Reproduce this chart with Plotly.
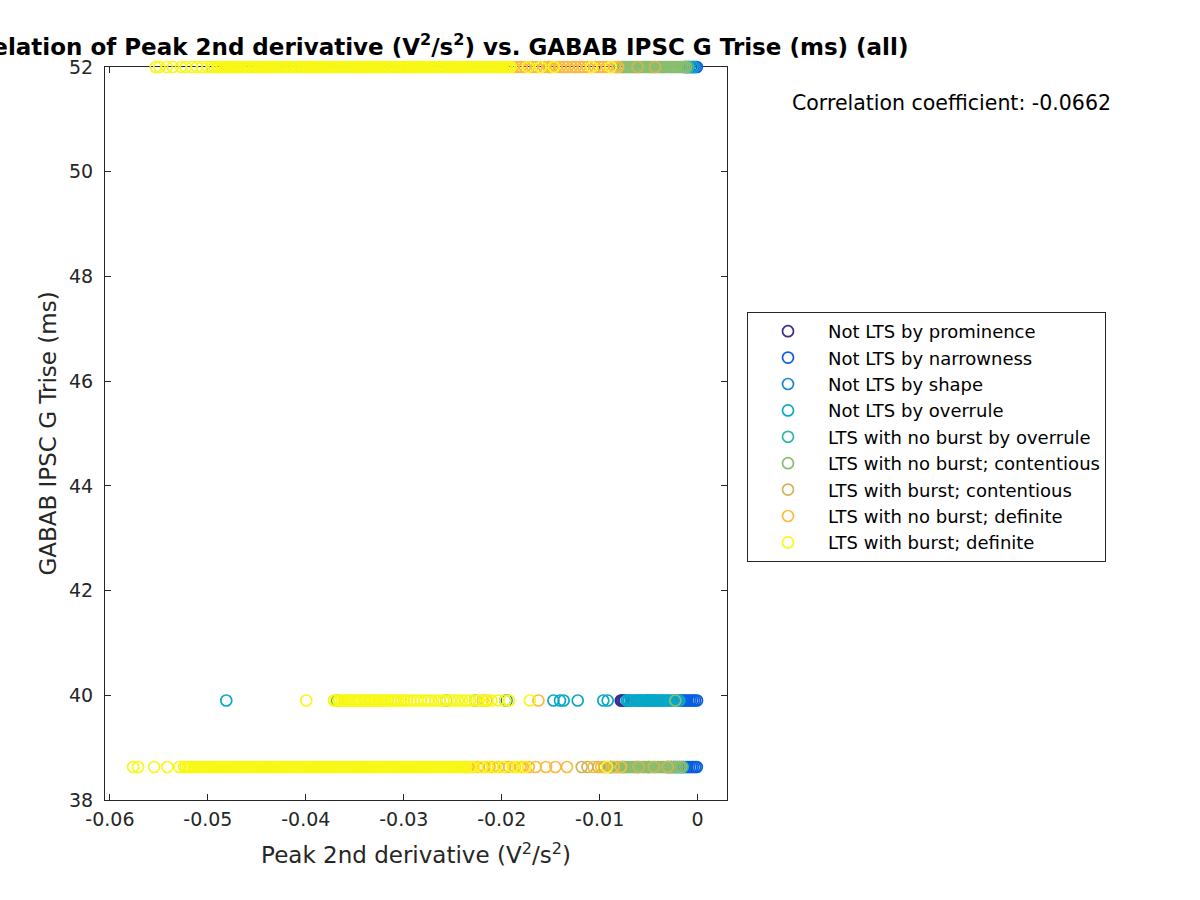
import plotly.graph_objects as go

# ---------------- data ----------------
ROW_TOP = 52.0
ROW_MID = 39.9
ROW_BOT = 38.63

series_names = [
    "Not LTS by prominence",
    "Not LTS by narrowness",
    "Not LTS by shape",
    "Not LTS by overrule",
    "LTS with no burst by overrule",
    "LTS with no burst; contentious",
    "LTS with burst; contentious",
    "LTS with no burst; definite",
    "LTS with burst; definite",
]
series_colors = [
    "#3B2A98", "#0A5EE0", "#1A87D8", "#07A8C8", "#2EB79F",
    "#89BE6E", "#D0B454", "#FCBA3B", "#F8F816",
]

# --- Not LTS by prominence
prom_top = []
prom_mid = [-0.00784, -0.00771, -0.00757, -0.00746]
prom_bot = []

# --- Not LTS by narrowness
narrow_top = [-0.00124, -0.00106, -0.00085, -0.00064, -0.00046, -0.00027, -0.00008]
narrow_mid = [-0.01952, -0.00705, -0.00521, -0.00183, -0.00165, -0.00144, -0.00126,
              -0.00105, -0.00084, -0.00066, -0.00045, -0.00026, -0.00006]
narrow_bot = [-0.00891, -0.00304, -0.00282, -0.00265, -0.00243, -0.00226, -0.00204,
              -0.00185, -0.00163, -0.00144, -0.00126, -0.00105, -0.00086, -0.00064,
              -0.00046, -0.00025, -0.00008]

# --- Not LTS by shape
shape_top = [-0.00091, -0.00032]
shape_mid = [-0.00602, -0.00485, -0.00431]
shape_bot = [-0.00762, -0.00618, -0.00503, -0.00311]

# --- Not LTS by overrule
overrule_top = [-0.00052]
overrule_mid = [-0.04812, -0.03683, -0.02562, -0.02271, -0.01963, -0.01472, -0.01405,
                -0.01368, -0.01224, -0.00963, -0.00918, -0.00725, -0.00705, -0.00684,
                -0.00666, -0.00645, -0.00624, -0.00606, -0.00585, -0.00566, -0.00544,
                -0.00526, -0.00505, -0.00484, -0.00466, -0.00445, -0.00427, -0.00404,
                -0.00386, -0.00365, -0.00346, -0.00324, -0.00305, -0.00286, -0.00264,
                -0.00246, -0.00225, -0.00204, -0.00186]
overrule_bot = []

# --- LTS with no burst by overrule
ltsover_top = [-0.00135, -0.00112, -0.00094]
ltsover_mid = []
ltsover_bot = [-0.00152]

# --- LTS with no burst; contentious
nbcont_top = [-0.00815, -0.00796, -0.00774, -0.00755, -0.00736, -0.00714, -0.00695,
              -0.00676, -0.00654, -0.00635, -0.00616, -0.00594, -0.00575, -0.00556,
              -0.00534, -0.00515, -0.00496, -0.00474, -0.00455, -0.00436, -0.00414,
              -0.00395, -0.00376, -0.00354, -0.00335, -0.00316, -0.00294, -0.00275,
              -0.00256, -0.00234, -0.00215, -0.00196, -0.00174, -0.00155, -0.00136,
              -0.00118]
nbcont_mid = [-0.00228]
nbcont_bot = [-0.00953, -0.00921, -0.00884, -0.00865, -0.00846, -0.00824, -0.00806,
              -0.00785, -0.00766, -0.00744, -0.00725, -0.00706, -0.00684, -0.00665,
              -0.00646, -0.00625, -0.00604, -0.00586, -0.00564, -0.00545, -0.00526,
              -0.00504, -0.00486, -0.00465, -0.00444, -0.00426, -0.00405, -0.00386,
              -0.00364, -0.00345, -0.00326, -0.00304, -0.00285, -0.00266, -0.00244,
              -0.00225, -0.00206, -0.00184, -0.00165]

# --- LTS with burst; contentious
bcont_top = [-0.01512, -0.01245, -0.00612, -0.00434]
bcont_mid = []
bcont_bot = [-0.01183, -0.01124, -0.01013, -0.00952, -0.00602, -0.00447, -0.00305]

# --- LTS with no burst; definite
nbdef_top = [-0.01885, -0.01846, -0.01803, -0.01764, -0.01722, -0.01686, -0.01645,
             -0.01603, -0.01566, -0.01524, -0.01487, -0.01443, -0.01405, -0.01364,
             -0.01326, -0.01284, -0.01245, -0.01203, -0.01166, -0.01124, -0.01085,
             -0.01046, -0.01004, -0.00965, -0.00924, -0.00885, -0.00846, -0.00812]
nbdef_mid = [-0.02193, -0.02154, -0.01625]
nbdef_bot = [-0.02367, -0.02338, -0.02296, -0.02245, -0.02178, -0.02124, -0.02087,
             -0.02034, -0.01965, -0.01924, -0.01865, -0.01806, -0.01785, -0.01724,
             -0.01653, -0.01548, -0.01452, -0.01334, -0.01063, -0.00984, -0.00856,
             -0.00782]

# --- LTS with burst; definite
bdef_top = [-0.05532, -0.05495, -0.05418, -0.05357, -0.05274, -0.05226, -0.05163,
            -0.05112, -0.05061, -0.05004, -0.04963, -0.04932,
            -0.04901, -0.04883, -0.04862, -0.04845, -0.04821, -0.04803, -0.04786,
            -0.04764, -0.04742, -0.04725, -0.04702, -0.04688, -0.04665, -0.04641,
            -0.04627, -0.04603, -0.04584, -0.04566, -0.04547, -0.04522, -0.04508,
            -0.04486, -0.04463, -0.04448, -0.04425, -0.04404, -0.04389, -0.04366,
            -0.04345, -0.04327, -0.04306, -0.04284, -0.04268, -0.04247, -0.04223,
            -0.04209, -0.04186, -0.04167, -0.04144, -0.04128, -0.04105, -0.04087,
            -0.04063, -0.04046, -0.04025, -0.04008, -0.03986, -0.03964, -0.03947,
            -0.03925, -0.03906, -0.03884, -0.03866, -0.03843, -0.03827, -0.03805,
            -0.03788, -0.03764, -0.03745, -0.03726, -0.03707, -0.03685, -0.03668,
            -0.03644, -0.03626, -0.03604, -0.03587, -0.03565, -0.03546, -0.03523,
            -0.03508, -0.03486, -0.03467, -0.03445, -0.03428, -0.03403, -0.03385,
            -0.03366, -0.03344, -0.03327, -0.03305, -0.03284, -0.03268, -0.03246,
            -0.03224, -0.03207, -0.03185, -0.03163, -0.03148, -0.03124, -0.03106,
            -0.03087, -0.03064, -0.03046, -0.03027, -0.03005, -0.02986, -0.02968,
            -0.02944, -0.02925, -0.02907, -0.02886, -0.02864, -0.02847, -0.02825,
            -0.02806, -0.02784, -0.02767, -0.02745, -0.02726, -0.02704, -0.02687,
            -0.02665, -0.02646, -0.02624, -0.02608, -0.02586, -0.02563, -0.02547,
            -0.02524, -0.02506, -0.02485, -0.02466, -0.02444, -0.02427, -0.02405,
            -0.02386, -0.02365, -0.02346, -0.02324, -0.02307, -0.02284, -0.02266,
            -0.02245, -0.02226, -0.02204, -0.02187, -0.02165, -0.02146, -0.02124,
            -0.02106, -0.02085, -0.02064, -0.02046, -0.02025, -0.02004, -0.01987,
            -0.01965, -0.01946, -0.01924, -0.01906,
            -0.01733, -0.01602, -0.01467, -0.01082, -0.00887]
bdef_mid = [-0.03995, -0.03712, -0.03694, -0.03665, -0.03652, -0.03631, -0.03608,
            -0.03587, -0.03573, -0.03551, -0.03526, -0.03504, -0.03482, -0.03465,
            -0.03441, -0.03417, -0.03395, -0.03378, -0.03352, -0.03327, -0.03303,
            -0.03284, -0.03256, -0.03231, -0.03208, -0.03186, -0.03162, -0.03135,
            -0.03106, -0.03084, -0.03057, -0.03025, -0.02996, -0.02968, -0.02931,
            -0.02897, -0.02863, -0.02826, -0.02785, -0.02752, -0.02718, -0.02674,
            -0.02633, -0.02595, -0.02561, -0.02524, -0.02486, -0.02447, -0.02405,
            -0.02368, -0.02325, -0.02272, -0.02235, -0.02184, -0.02146, -0.02105,
            -0.02034, -0.01962, -0.01925, -0.01713]
bdef_bot = [-0.05763, -0.05712, -0.05548, -0.05413, -0.05291,
            -0.05243, -0.05226, -0.05204, -0.05185, -0.05167, -0.05144, -0.05126,
            -0.05105, -0.05087, -0.05064, -0.05046, -0.05025, -0.05006, -0.04987,
            -0.04965, -0.04944, -0.04926, -0.04905, -0.04886, -0.04864, -0.04847,
            -0.04825, -0.04806, -0.04784, -0.04766, -0.04745, -0.04724, -0.04706,
            -0.04685, -0.04667, -0.04644, -0.04625, -0.04606, -0.04587, -0.04564,
            -0.04546, -0.04525, -0.04505, -0.04486, -0.04465, -0.04446, -0.04424,
            -0.04407, -0.04385, -0.04366, -0.04344, -0.04326, -0.04305, -0.04287,
            -0.04264, -0.04245, -0.04226, -0.04204, -0.04186, -0.04165, -0.04146,
            -0.04125, -0.04104, -0.04086, -0.04064, -0.04047, -0.04025, -0.04006,
            -0.03985, -0.03967, -0.03944, -0.03926, -0.03904, -0.03886, -0.03865,
            -0.03846, -0.03824, -0.03805, -0.03787, -0.03765, -0.03744, -0.03726,
            -0.03704, -0.03686, -0.03665, -0.03645, -0.03626, -0.03605, -0.03586,
            -0.03564, -0.03547, -0.03524, -0.03506, -0.03485, -0.03466, -0.03446,
            -0.03425, -0.03406, -0.03384, -0.03366, -0.03345, -0.03327, -0.03304,
            -0.03286, -0.03265, -0.03246, -0.03224, -0.03205, -0.03186, -0.03165,
            -0.03144, -0.03126, -0.03105, -0.03087, -0.03064, -0.03046, -0.03025,
            -0.03006, -0.02984, -0.02966, -0.02945, -0.02926, -0.02904, -0.02887,
            -0.02864, -0.02845, -0.02826, -0.02804, -0.02786, -0.02765, -0.02746,
            -0.02724, -0.02706, -0.02685, -0.02667, -0.02644, -0.02625, -0.02606,
            -0.02585, -0.02566, -0.02544, -0.02526, -0.02505, -0.02486, -0.02465,
            -0.02446, -0.02424, -0.02405, -0.02384,
            -0.02362, -0.02321, -0.02284, -0.02205, -0.02143, -0.02062, -0.01986,
            -0.01887, -0.01835, -0.01762, -0.00925]

series_rows = [
    (prom_top, prom_mid, prom_bot),
    (narrow_top, narrow_mid, narrow_bot),
    (shape_top, shape_mid, shape_bot),
    (overrule_top, overrule_mid, overrule_bot),
    (ltsover_top, ltsover_mid, ltsover_bot),
    (nbcont_top, nbcont_mid, nbcont_bot),
    (bcont_top, bcont_mid, bcont_bot),
    (nbdef_top, nbdef_mid, nbdef_bot),
    (bdef_top, bdef_mid, bdef_bot),
]

x_tickvals = [-0.06, -0.05, -0.04, -0.03, -0.02, -0.01, 0]
x_ticktext = ["-0.06", "-0.05", "-0.04", "-0.03", "-0.02", "-0.01", "0"]
y_tickvals = [38, 40, 42, 44, 46, 48, 50, 52]
y_ticktext = ["38", "40", "42", "44", "46", "48", "50", "52"]

title_text = ("<b>Correlation of Peak 2nd derivative (V<sup>2</sup>/s<sup>2</sup>) "
              "vs. GABAB IPSC G Trise (ms) (all)</b>")
correlation_text = "Correlation coefficient: -0.0662"

# ---------------- figure ----------------
FONT = "DejaVu Sans"
INK = "#262626"

fig = go.Figure()
for name, color, (top, mid, bot) in zip(series_names, series_colors, series_rows):
    xs = list(top) + list(mid) + list(bot)
    ys = [ROW_TOP] * len(top) + [ROW_MID] * len(mid) + [ROW_BOT] * len(bot)
    fig.add_trace(go.Scatter(
        x=xs, y=ys, mode="markers", name=name, cliponaxis=False,
        marker=dict(symbol="circle-open", size=11, color=color,
                    line=dict(width=1.7, color=color)),
    ))

fig.update_layout(
    width=1200, height=900,
    margin=dict(l=105, r=473, t=67, b=100),
    paper_bgcolor="white", plot_bgcolor="white",
    font=dict(family=FONT, size=19, color=INK),
    showlegend=True,
    legend=dict(
        x=(747 - 105) / 622, y=(800 - 312) / 733, xanchor="left", yanchor="top",
        bordercolor=INK, borderwidth=1, bgcolor="white",
        font=dict(family=FONT, size=18, color="black"),
        itemwidth=70, tracegroupgap=0,
    ),
    annotations=[
        dict(text=title_text, xref="paper", yref="paper",
             x=(422 - 105) / 622, y=(800 - 45) / 733, xanchor="center", yanchor="middle",
             showarrow=False, font=dict(family=FONT, size=23, color="black")),
        dict(text=correlation_text, xref="paper", yref="paper",
             x=(951 - 105) / 622, y=(800 - 103) / 733, xanchor="center", yanchor="middle",
             showarrow=False, font=dict(family=FONT, size=20.5, color="black")),
    ],
)

fig.update_xaxes(
    range=[-0.0605, 0.003], tickvals=x_tickvals, ticktext=x_ticktext,
    ticks="inside", ticklen=6, tickcolor=INK, showline=True, linecolor=INK,
    linewidth=1, mirror="ticks", showgrid=False, zeroline=False,
    layer="below traces", ticklabelstandoff=2,
    tickfont=dict(family=FONT, size=19, color=INK),
    title=dict(text="Peak 2nd derivative (V<sup>2</sup>/s<sup>2</sup>)",
               font=dict(family=FONT, size=23, color=INK), standoff=18),
)
fig.update_yaxes(
    range=[38, 52], tickvals=y_tickvals, ticktext=y_ticktext,
    ticks="inside", ticklen=6, tickcolor=INK, showline=True, linecolor=INK,
    linewidth=1, mirror="ticks", showgrid=False, zeroline=False,
    layer="below traces", ticklabelstandoff=7,
    tickfont=dict(family=FONT, size=19, color=INK),
    title=dict(text="GABAB IPSC G Trise (ms)",
               font=dict(family=FONT, size=23, color=INK), standoff=5),
)

fig.write_html("out.html")
